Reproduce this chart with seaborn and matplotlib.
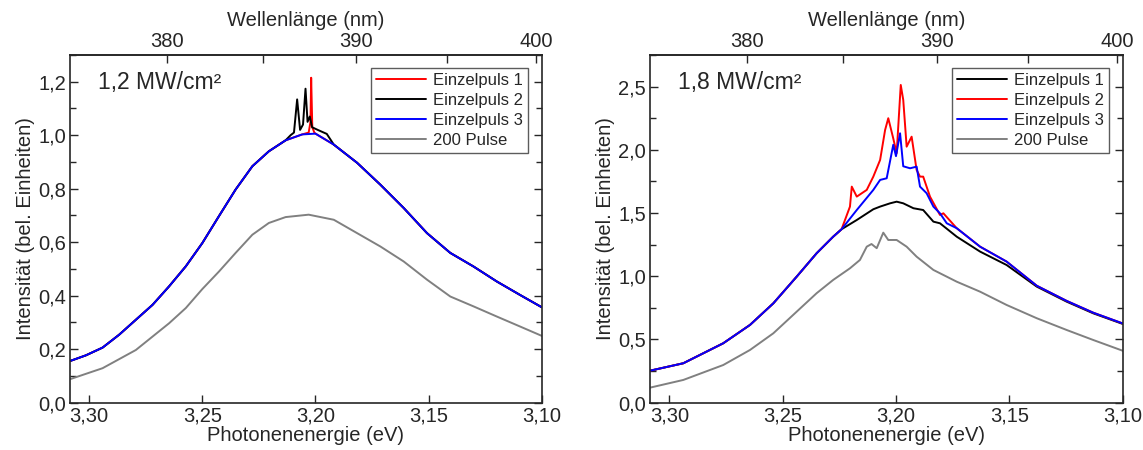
import numpy as np
import pandas as pd
import matplotlib
matplotlib.use("Agg")
import matplotlib.pyplot as plt
from matplotlib.ticker import FuncFormatter, MultipleLocator, FixedLocator
import seaborn as sns

# ---------------- data ----------------
# Left panel: 1,2 MW/cm²
left_base_E = [3.3081, 3.3015, 3.2941, 3.2868, 3.2794, 3.272, 3.2647, 3.2573, 3.25, 3.2427,
               3.2353, 3.2279, 3.2206, 3.2132, 3.2059, 3.2000, 3.1919, 3.1816, 3.1713,
               3.161, 3.1507, 3.1404, 3.1301, 3.1198, 3.1096, 3.100]
left_base_I = [0.157, 0.177, 0.206, 0.254, 0.310, 0.366, 0.435, 0.510, 0.597, 0.697,
               0.797, 0.884, 0.940, 0.981, 1.003, 1.006, 0.965, 0.897, 0.815,
               0.728, 0.634, 0.560, 0.509, 0.453, 0.403, 0.357]
left_p1_spike_E = [3.2030, 3.2022, 3.2019, 3.2014, 3.2005]
left_p1_spike_I = [1.010, 1.050, 1.215, 1.030, 1.010]
left_p2_spike_E = [3.2110, 3.2095, 3.2081, 3.2068, 3.2055, 3.2044, 3.2035, 3.2025, 3.2015, 3.1990, 3.1950]
left_p2_spike_I = [1.000, 1.010, 1.134, 1.020, 1.040, 1.174, 1.050, 1.070, 1.030, 1.020, 1.005]
left_200_E = [3.3081, 3.2941, 3.2794, 3.2647, 3.2573, 3.25, 3.2427, 3.2353, 3.2279, 3.2206,
              3.2132, 3.2030, 3.1919, 3.1816, 3.1713, 3.161, 3.1507, 3.1404, 3.1301,
              3.1198, 3.1096, 3.100]
left_200_I = [0.089, 0.129, 0.197, 0.297, 0.354, 0.425, 0.490, 0.560, 0.628, 0.672,
              0.694, 0.703, 0.684, 0.634, 0.584, 0.528, 0.460, 0.397, 0.360,
              0.322, 0.285, 0.250]

# Right panel: 1,8 MW/cm²
right_base_E = [3.3085, 3.2938, 3.2762, 3.2644, 3.2541, 3.2438, 3.235, 3.2277, 3.224]
right_base_I = [0.253, 0.312, 0.470, 0.615, 0.786, 0.997, 1.182, 1.313, 1.372]
right_p1_E = [3.2173, 3.210, 3.207, 3.2026, 3.1997, 3.1968, 3.1923, 3.188, 3.1835, 3.1806,
              3.1732, 3.1629, 3.1512, 3.1379, 3.1247, 3.113, 3.100]
right_p1_I = [1.445, 1.530, 1.551, 1.577, 1.590, 1.577, 1.538, 1.524, 1.432, 1.419,
              1.313, 1.195, 1.089, 0.918, 0.799, 0.707, 0.623]
right_p2_E = [3.2203, 3.2195, 3.2173, 3.2129, 3.210, 3.207, 3.2048, 3.2034, 3.2012, 3.1997,
              3.1979, 3.1968, 3.1953, 3.1931, 3.1909, 3.1894, 3.188, 3.185, 3.1806, 3.1791,
              3.1732, 3.1629, 3.1512, 3.1379, 3.1247, 3.113, 3.100]
right_p2_I = [1.551, 1.709, 1.630, 1.683, 1.788, 1.920, 2.157, 2.250, 2.090, 1.973,
              2.513, 2.395, 2.025, 2.104, 1.841, 1.788, 1.788, 1.630, 1.485, 1.498,
              1.380, 1.234, 1.116, 0.925, 0.805, 0.712, 0.627]
right_p3_E = [3.2173, 3.210, 3.207, 3.2041, 3.2012, 3.2000, 3.1982, 3.1968, 3.1938, 3.1909,
              3.1894, 3.1865, 3.1835, 3.1806, 3.1776, 3.1732, 3.1629, 3.1512, 3.1379,
              3.1247, 3.113, 3.100]
right_p3_I = [1.524, 1.683, 1.762, 1.775, 2.040, 1.950, 2.131, 1.870, 1.854, 1.867,
              1.709, 1.657, 1.551, 1.498, 1.419, 1.380, 1.234, 1.116, 0.925,
              0.805, 0.712, 0.627]
right_200_E = [3.3085, 3.2938, 3.2762, 3.2644, 3.2541, 3.2438, 3.235, 3.2277, 3.2203, 3.2159,
               3.2129, 3.2108, 3.2085, 3.2056, 3.2034, 3.1997, 3.1953, 3.1909, 3.1835, 3.1732,
               3.1629, 3.1512, 3.1379, 3.1247, 3.113, 3.100]
right_200_I = [0.119, 0.180, 0.298, 0.417, 0.549, 0.720, 0.866, 0.971, 1.063, 1.129,
               1.234, 1.255, 1.222, 1.345, 1.287, 1.287, 1.234, 1.155, 1.050, 0.957,
               0.878, 0.773, 0.668, 0.575, 0.496, 0.411]

labels = ["Einzelpuls 1", "Einzelpuls 2", "Einzelpuls 3", "200 Pulse"]
intensity_labels = ["1,2 MW/cm²", "1,8 MW/cm²"]
x_ticks = [3.30, 3.25, 3.20, 3.15, 3.10]
wl_ticks = [380, 390, 400]


def merge(baseE, baseI, spE, spI):
    lo, hi = min(spE), max(spE)
    pts = [(e, i) for e, i in zip(baseE, baseI) if not (lo <= e <= hi)]
    pts += list(zip(spE, spI))
    pts.sort(key=lambda p: -p[0])
    return [p[0] for p in pts], [p[1] for p in pts]


left_series = [
    merge(left_base_E, left_base_I, left_p1_spike_E, left_p1_spike_I),
    merge(left_base_E, left_base_I, left_p2_spike_E, left_p2_spike_I),
    (left_base_E, left_base_I),
    (left_200_E, left_200_I),
]
right_series = [
    (right_base_E + right_p1_E, right_base_I + right_p1_I),
    (right_base_E + right_p2_E, right_base_I + right_p2_I),
    (right_base_E + right_p3_E, right_base_I + right_p3_I),
    (right_200_E, right_200_I),
]
left_colors = ["#ff0000", "#000000", "#0000ff", "#808080"]
right_colors = ["#000000", "#ff0000", "#0000ff", "#808080"]

# ---------------- style ----------------
sns.set_style("ticks")
plt.rcParams["font.family"] = ["Liberation Sans", "DejaVu Sans"]
plt.rcParams["xtick.direction"] = "in"
plt.rcParams["ytick.direction"] = "in"

fig = plt.figure(figsize=(11.43, 4.5), dpi=100)
ax_l = fig.add_axes([70 / 1143, 1 - 402.7 / 450, 471.7 / 1143, 347.7 / 450])
ax_r = fig.add_axes([650 / 1143, 1 - 402.7 / 450, 472.7 / 1143, 347.7 / 450])

comma = FuncFormatter(lambda v, p: f"{v:.2f}".replace(".", ","))
comma1 = FuncFormatter(lambda v, p: f"{v:.1f}".replace(".", ","))


def e2wl(e):
    e = np.asarray(e, dtype=float)
    with np.errstate(divide="ignore"):
        return 1241.0 / e


def wl2e(w):
    w = np.asarray(w, dtype=float)
    with np.errstate(divide="ignore"):
        return 1241.0 / w


FS = 14.5
for ax, series, colors, ymax, ystep, txt in [
    (ax_l, left_series, left_colors, 1.3, 0.2, intensity_labels[0]),
    (ax_r, right_series, right_colors, 2.75, 0.5, intensity_labels[1]),
]:
    for (E, I), c, lab in zip(series, colors, labels):
        df = pd.DataFrame({"E": E, "I": I})
        sns.lineplot(data=df, x="E", y="I", ax=ax, color=c, lw=1.4, sort=False,
                     label=lab, estimator=None)
    ax.set_xlim(3.3085, 3.10)
    ax.set_ylim(0, ymax)
    ax.xaxis.set_major_locator(FixedLocator(x_ticks))
    ax.xaxis.set_major_formatter(comma)
    ax.yaxis.set_major_locator(MultipleLocator(ystep))
    ax.yaxis.set_minor_locator(MultipleLocator(ystep / 2))
    ax.yaxis.set_major_formatter(comma1)
    ax.tick_params(axis="both", which="major", labelsize=FS, length=6, width=1,
                   top=False, right=True, pad=3)
    ax.tick_params(axis="y", which="minor", length=4, width=1, right=True, left=True)
    ax.set_xlabel("Photonenenergie (eV)", fontsize=FS, labelpad=0)
    ax.set_ylabel("Intensität (bel. Einheiten)", fontsize=FS, labelpad=2)
    for s in ax.spines.values():
        s.set_linewidth(1.2)
    ax.text(0.06, 0.955, txt, transform=ax.transAxes, fontsize=16.5, va="top", ha="left")
    leg = ax.legend(loc="upper right", bbox_to_anchor=(0.97, 0.963), fontsize=12,
                    frameon=True, fancybox=False, handlelength=3.0, labelspacing=0.3,
                    borderpad=0.3, handletextpad=0.4, borderaxespad=0)
    leg.get_frame().set_edgecolor("#333333")
    leg.get_frame().set_linewidth(1.0)

    sec = ax.secondary_xaxis("top", functions=(e2wl, wl2e))
    sec.xaxis.set_major_locator(FixedLocator(wl_ticks))
    sec.xaxis.set_minor_locator(FixedLocator([385, 395]))
    sec.xaxis.set_major_formatter(FuncFormatter(lambda v, p: f"{v:.0f}"))
    sec.tick_params(axis="x", which="major", direction="in", labelsize=FS, length=6, width=1, pad=3)
    sec.tick_params(axis="x", which="minor", direction="in", length=6, width=1)
    sec.set_xlabel("Wellenlänge (nm)", fontsize=FS, labelpad=4)
    sec.spines["top"].set_linewidth(1.2)

fig.savefig("out.png", dpi=100)
